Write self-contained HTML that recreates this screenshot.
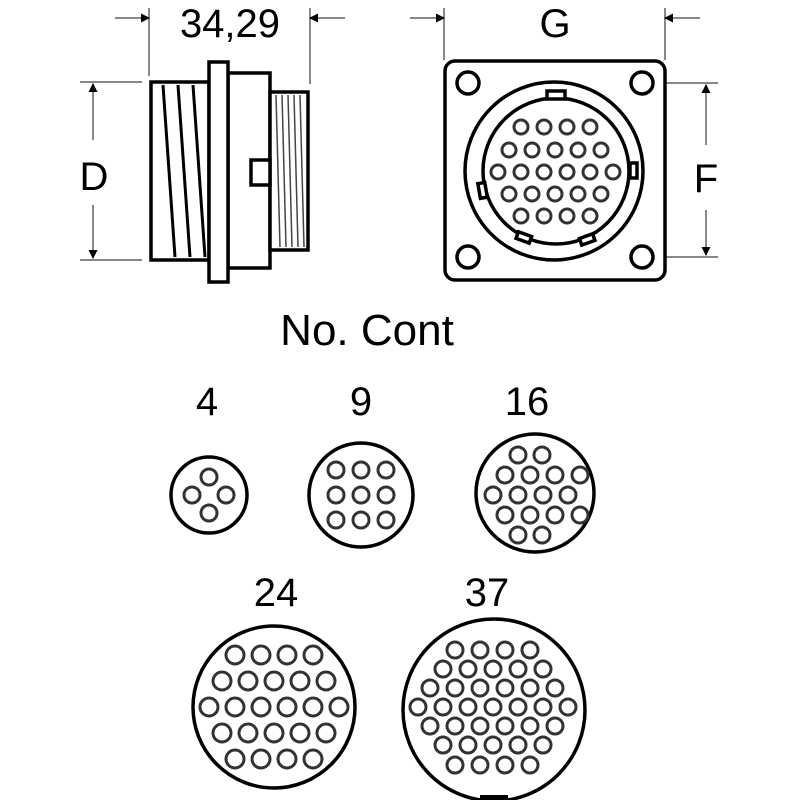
<!DOCTYPE html>
<html><head><style>html,body{margin:0;padding:0;background:#fff}svg{display:block}</style></head>
<body>
<svg width="800" height="800" viewBox="0 0 800 800" xmlns="http://www.w3.org/2000/svg" font-family="Liberation Sans, sans-serif">
<defs>
<marker id="ah" markerWidth="9" markerHeight="9" refX="8" refY="4.5" orient="auto" markerUnits="userSpaceOnUse"><path d="M0,0 L9,4.5 L0,9z" fill="#000"/></marker>
</defs>
<g stroke="#888" stroke-width="2" fill="none">
<line x1="149" y1="8" x2="149" y2="76"/>
<line x1="310" y1="8" x2="310" y2="84"/>
<line x1="80" y1="82" x2="142" y2="82"/>
<line x1="80" y1="260" x2="142" y2="260"/>
<line x1="444" y1="8" x2="444" y2="60"/>
<line x1="665" y1="8" x2="665" y2="60"/>
<line x1="650" y1="83" x2="718" y2="83"/>
<line x1="650" y1="257" x2="718" y2="257"/>
</g>
<g stroke="#888" stroke-width="2" marker-end="url(#ah)">
<line x1="115" y1="18" x2="149" y2="18"/>
<line x1="345" y1="18" x2="310" y2="18"/>
<line x1="93" y1="140" x2="93" y2="84"/>
<line x1="93" y1="205" x2="93" y2="258"/>
<line x1="410" y1="18" x2="444" y2="18"/>
<line x1="700" y1="18" x2="665" y2="18"/>
<line x1="706" y1="145" x2="706" y2="85"/>
<line x1="706" y1="210" x2="706" y2="255"/>
</g>
<g font-size="40" text-anchor="middle" fill="#000">
<text x="230" y="37">34,29</text>
<text x="94" y="190">D</text>
<text x="555" y="37">G</text>
<text x="706" y="192">F</text>
<text x="367" y="345" font-size="44">No. Cont</text>
<text x="207" y="415">4</text>
<text x="361" y="415">9</text>
<text x="527" y="415">16</text>
<text x="276" y="606">24</text>
<text x="487" y="606">37</text>
</g>
<g stroke="#000" stroke-width="3.5" fill="#fff">
<rect x="151" y="82" width="58" height="178"/>
<rect x="228" y="73" width="42" height="195"/>
<rect x="270" y="92" width="38" height="158"/>
<rect x="209" y="62" width="19" height="220"/>
<rect x="251" y="160" width="19" height="25"/>
</g>
<g stroke="#000" stroke-width="3">
<line x1="163" y1="85" x2="175" y2="257"/>
<line x1="178" y1="85" x2="190" y2="257"/>
<line x1="193" y1="85" x2="205" y2="257"/>
</g>
<g stroke="#444" stroke-width="1.5">
<line x1="276" y1="95" x2="280" y2="247"/><line x1="282" y1="95" x2="286" y2="247"/>
<line x1="288" y1="95" x2="292" y2="247"/><line x1="294" y1="95" x2="298" y2="247"/>
<line x1="300" y1="95" x2="304" y2="247"/>
</g>
<g stroke="#000" stroke-width="3.5" fill="#fff">
<rect x="445" y="61" width="220" height="219" rx="10"/>
<circle cx="468" cy="83" r="11"/><circle cx="642" cy="83" r="11"/>
<circle cx="468" cy="257" r="11"/><circle cx="642" cy="257" r="11"/>
<circle cx="554" cy="171" r="89"/>
<circle cx="556" cy="171" r="73"/>
<rect x="547" y="91" width="18" height="8"/>
<rect x="630" y="163" width="7" height="15"/>
<rect x="479" y="183" width="7" height="15" transform="rotate(-10 482 190)"/>
<rect x="517" y="234" width="14" height="7" transform="rotate(20 524 237)"/>
<rect x="580" y="236" width="14" height="7" transform="rotate(-20 587 239)"/>
</g>
<g stroke="#000" stroke-width="3.5" fill="#fff">
<circle cx="209" cy="495" r="38"/>
<circle cx="361" cy="495" r="52"/>
<circle cx="535" cy="493" r="59"/>
<circle cx="274" cy="707" r="81"/>
<circle cx="494" cy="710" r="91"/>
</g>
<g stroke="#333" stroke-width="3" fill="#fff">
<circle cx="209" cy="477" r="8"/><circle cx="192" cy="495" r="8"/><circle cx="226" cy="495" r="8"/><circle cx="209" cy="513" r="8"/>
<circle cx="336" cy="470" r="8"/><circle cx="361" cy="470" r="8"/><circle cx="386" cy="470" r="8"/>
<circle cx="336" cy="495" r="8"/><circle cx="361" cy="495" r="8"/><circle cx="386" cy="495" r="8"/>
<circle cx="336" cy="520" r="8"/><circle cx="361" cy="520" r="8"/><circle cx="386" cy="520" r="8"/>
<circle cx="518" cy="455" r="8"/><circle cx="542" cy="455" r="8"/>
<circle cx="505" cy="475" r="8"/><circle cx="530" cy="475" r="8"/><circle cx="555" cy="475" r="8"/><circle cx="580" cy="475" r="8"/>
<circle cx="493" cy="495" r="8"/><circle cx="518" cy="495" r="8"/><circle cx="543" cy="495" r="8"/><circle cx="568" cy="495" r="8"/>
<circle cx="505" cy="515" r="8"/><circle cx="530" cy="515" r="8"/><circle cx="555" cy="515" r="8"/><circle cx="580" cy="515" r="8"/>
<circle cx="518" cy="535" r="8"/><circle cx="542" cy="535" r="8"/>
<circle cx="521" cy="127" r="7"/><circle cx="544" cy="127" r="7"/><circle cx="567" cy="127" r="7"/><circle cx="590" cy="127" r="7"/>
<circle cx="509" cy="150" r="7"/><circle cx="532" cy="150" r="7"/><circle cx="555" cy="150" r="7"/><circle cx="578" cy="150" r="7"/><circle cx="601" cy="150" r="7"/>
<circle cx="498" cy="172" r="7"/><circle cx="521" cy="172" r="7"/><circle cx="544" cy="172" r="7"/><circle cx="567" cy="172" r="7"/><circle cx="590" cy="172" r="7"/><circle cx="613" cy="172" r="7"/>
<circle cx="509" cy="194" r="7"/><circle cx="532" cy="194" r="7"/><circle cx="555" cy="194" r="7"/><circle cx="578" cy="194" r="7"/><circle cx="601" cy="194" r="7"/>
<circle cx="521" cy="216" r="7"/><circle cx="544" cy="216" r="7"/><circle cx="567" cy="216" r="7"/><circle cx="590" cy="216" r="7"/>
<circle cx="235" cy="655" r="9"/><circle cx="261" cy="655" r="9"/><circle cx="287" cy="655" r="9"/><circle cx="313" cy="655" r="9"/>
<circle cx="222" cy="681" r="9"/><circle cx="248" cy="681" r="9"/><circle cx="274" cy="681" r="9"/><circle cx="300" cy="681" r="9"/><circle cx="326" cy="681" r="9"/>
<circle cx="209" cy="707" r="9"/><circle cx="235" cy="707" r="9"/><circle cx="261" cy="707" r="9"/><circle cx="287" cy="707" r="9"/><circle cx="313" cy="707" r="9"/><circle cx="339" cy="707" r="9"/>
<circle cx="222" cy="733" r="9"/><circle cx="248" cy="733" r="9"/><circle cx="274" cy="733" r="9"/><circle cx="300" cy="733" r="9"/><circle cx="326" cy="733" r="9"/>
<circle cx="235" cy="759" r="9"/><circle cx="261" cy="759" r="9"/><circle cx="287" cy="759" r="9"/><circle cx="313" cy="759" r="9"/>
<circle cx="455" cy="650" r="8"/><circle cx="480" cy="650" r="8"/><circle cx="505" cy="650" r="8"/><circle cx="530" cy="650" r="8"/>
<circle cx="443" cy="669" r="8"/><circle cx="468" cy="669" r="8"/><circle cx="493" cy="669" r="8"/><circle cx="518" cy="669" r="8"/><circle cx="543" cy="669" r="8"/>
<circle cx="430" cy="688" r="8"/><circle cx="455" cy="688" r="8"/><circle cx="480" cy="688" r="8"/><circle cx="505" cy="688" r="8"/><circle cx="530" cy="688" r="8"/><circle cx="555" cy="688" r="8"/>
<circle cx="418" cy="707" r="8"/><circle cx="443" cy="707" r="8"/><circle cx="468" cy="707" r="8"/><circle cx="493" cy="707" r="8"/><circle cx="518" cy="707" r="8"/><circle cx="543" cy="707" r="8"/><circle cx="568" cy="707" r="8"/>
<circle cx="430" cy="726" r="8"/><circle cx="455" cy="726" r="8"/><circle cx="480" cy="726" r="8"/><circle cx="505" cy="726" r="8"/><circle cx="530" cy="726" r="8"/><circle cx="555" cy="726" r="8"/>
<circle cx="443" cy="745" r="8"/><circle cx="468" cy="745" r="8"/><circle cx="493" cy="745" r="8"/><circle cx="518" cy="745" r="8"/><circle cx="543" cy="745" r="8"/>
<circle cx="455" cy="765" r="8"/><circle cx="480" cy="765" r="8"/><circle cx="505" cy="765" r="8"/><circle cx="530" cy="765" r="8"/>
</g>
<rect x="480" y="795" width="28" height="5" fill="#000"/>
</svg>
</body></html>
